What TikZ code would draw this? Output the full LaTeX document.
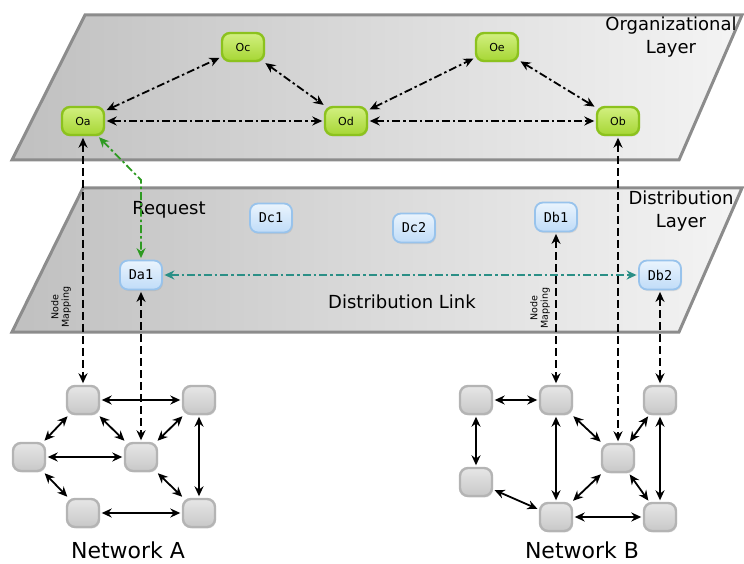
\documentclass[tikz,border=0pt]{standalone}
\usepackage{fontspec}
\setmainfont{DejaVu Sans}
\newfontfamily\labmono{DejaVu Sans Mono}
\usetikzlibrary{arrows.meta,shadows}
\definecolor{laydark}{HTML}{C0C0C0}
\definecolor{laylight}{HTML}{F4F4F4}
\definecolor{layborder}{HTML}{8C8C8C}
\definecolor{ogtop}{HTML}{D2F080}
\definecolor{ogbot}{HTML}{A6D634}
\definecolor{ogdraw}{HTML}{8CC21E}
\definecolor{dbtop}{HTML}{EAF4FD}
\definecolor{dbbot}{HTML}{C0DCF8}
\definecolor{dbdraw}{HTML}{98C3EC}
\definecolor{gntop}{HTML}{E6E6E6}
\definecolor{gnbot}{HTML}{C8C8C8}
\definecolor{gndraw}{HTML}{B4B4B4}
\definecolor{tealink}{HTML}{2B8F86}
\definecolor{greenreq}{HTML}{2E9A22}
\begin{document}
\begin{tikzpicture}[x=1pt,y=-1pt,
  layer/.style={left color=laydark, right color=laylight, draw=layborder, line width=3pt, line join=miter},
  nshadow/.style={drop shadow={opacity=0.18, shadow xshift=1pt, shadow yshift=-1.5pt}},
  onode/.style={rounded corners=8pt, minimum width=42pt, minimum height=28pt, inner sep=0pt,
    top color=ogtop, bottom color=ogbot, draw=ogdraw, line width=2.4pt, nshadow,
    font=\fontsize{11}{12}\selectfont},
  dnode/.style={rounded corners=8pt, minimum width=42pt, minimum height=29pt, inner sep=0pt,
    top color=dbtop, bottom color=dbbot, draw=dbdraw, line width=1.8pt, nshadow,
    font=\labmono\fontsize{13.5}{14}\selectfont},
  gnode/.style={rounded corners=8pt, minimum width=32pt, minimum height=28pt, inner sep=0pt,
    top color=gntop, bottom color=gnbot, draw=gndraw, line width=2.4pt, nshadow},
  lbl/.style={font=\fontsize{18}{23}\selectfont, inner sep=0pt, align=center},
  netlbl/.style={font=\fontsize{22}{26}\selectfont, inner sep=0pt},
  nmlbl/.style={font=\fontsize{9.5}{10.5}\selectfont, inner sep=0pt, align=center, rotate=90},
  tips/.style={{Stealth[length=10pt,width=9pt]}-{Stealth[length=10pt,width=9pt]}},
  dashdot/.style={dash pattern=on 8pt off 3pt on 2.5pt off 3pt},
  orgedge/.style={tips, dashdot, line width=1.8pt, shorten >=1.5pt, shorten <=1.5pt},
  mapedge/.style={tips, dash pattern=on 8pt off 4pt, line width=1.8pt, shorten >=1.5pt, shorten <=1.5pt},
  netedge/.style={tips, line width=1.8pt, shorten >=1.5pt, shorten <=1.5pt},
  reqedge/.style={tips, dashdot, line width=1.8pt, draw=greenreq, greenreq, shorten >=1.5pt, shorten <=1.5pt},
  linkedge/.style={tips, dashdot, line width=1.8pt, draw=tealink, tealink, shorten >=1.5pt, shorten <=1.5pt}
]
\useasboundingbox (0,0) rectangle (744,564);

% layers
\path[layer] (85,15) -- (742,15) -- (679,160) -- (12,160) -- cycle;
\path[layer] (83,188) -- (742,188) -- (679,332) -- (12,332) -- cycle;

% organizational nodes
\node[onode] (Oa) at (83,121) {Oa};
\node[onode] (Oc) at (243,47) {Oc};
\node[onode] (Od) at (346,121) {Od};
\node[onode] (Oe) at (497,47) {Oe};
\node[onode] (Ob) at (618,121) {Ob};

% distribution nodes
\node[dnode] (Da1) at (141,275) {Da1};
\node[dnode] (Dc1) at (271,218) {Dc1};
\node[dnode] (Dc2) at (414,228) {Dc2};
\node[dnode] (Db1) at (556,217) {Db1};
\node[dnode] (Db2) at (660,275) {Db2};

% network A
\node[gnode] (A1) at (83,400) {};
\node[gnode] (A2) at (199,400) {};
\node[gnode] (A3) at (29,457) {};
\node[gnode] (A4) at (141,457) {};
\node[gnode] (A5) at (83,513) {};
\node[gnode] (A6) at (199,513) {};

% network B
\node[gnode] (B1) at (476,400) {};
\node[gnode] (B2) at (556,400) {};
\node[gnode] (B3) at (660,400) {};
\node[gnode] (B4) at (618,458) {};
\node[gnode] (B5) at (476,482) {};
\node[gnode] (B6) at (556,517) {};
\node[gnode] (B7) at (660,517) {};

% labels
\node[lbl] (orglbl) at (671,37.5) {Organizational\\Layer};
\node[lbl] (distlbl) at (681,211.5) {Distribution\\Layer};
\node[lbl] (reqlbl) at (169,210) {Request};
\node[lbl] (linklbl) at (402,302) {Distribution Link};
\node[nmlbl] (nm1) at (61,307) {Node\\Mapping};
\node[nmlbl] (nm2) at (540,308) {Node\\Mapping};
\node[netlbl] (netA) at (128,550) {Network A};
\node[netlbl] (netB) at (582,550) {Network B};

% organizational links
\draw[orgedge] (Oa) -- (Oc);
\draw[orgedge] (Oc) -- (Od);
\draw[orgedge] (Oa) -- (Od);
\draw[orgedge] (Od) -- (Oe);
\draw[orgedge] (Oe) -- (Ob);
\draw[orgedge] (Od) -- (Ob);

% request and distribution link
\coordinate (gbend) at (141,180);
\draw[reqedge] (Oa) -- (gbend) -- (Da1);
\draw[linkedge] (Da1) -- (Db2);

% node mappings
\draw[mapedge] (Oa) -- (A1);
\draw[mapedge] (Da1) -- (A4);
\draw[mapedge] (Db1) -- (B2);
\draw[mapedge] (Ob) -- (B4);
\draw[mapedge] (Db2) -- (B3);

% network A links
\draw[netedge] (A1) -- (A2);
\draw[netedge] (A1) -- (A3);
\draw[netedge] (A1) -- (A4);
\draw[netedge] (A2) -- (A4);
\draw[netedge] (A2) -- (A6);
\draw[netedge] (A3) -- (A4);
\draw[netedge] (A3) -- (A5);
\draw[netedge] (A4) -- (A6);
\draw[netedge] (A5) -- (A6);

% network B links
\draw[netedge] (B1) -- (B2);
\draw[netedge] (B1) -- (B5);
\draw[netedge] (B2) -- (B6);
\draw[netedge] (B2) -- (B4);
\draw[netedge] (B3) -- (B4);
\draw[netedge] (B3) -- (B7);
\draw[netedge] (B4) -- (B6);
\draw[netedge] (B4) -- (B7);
\draw[netedge] (B5) -- (B6);
\draw[netedge] (B6) -- (B7);
\end{tikzpicture}
\end{document}
